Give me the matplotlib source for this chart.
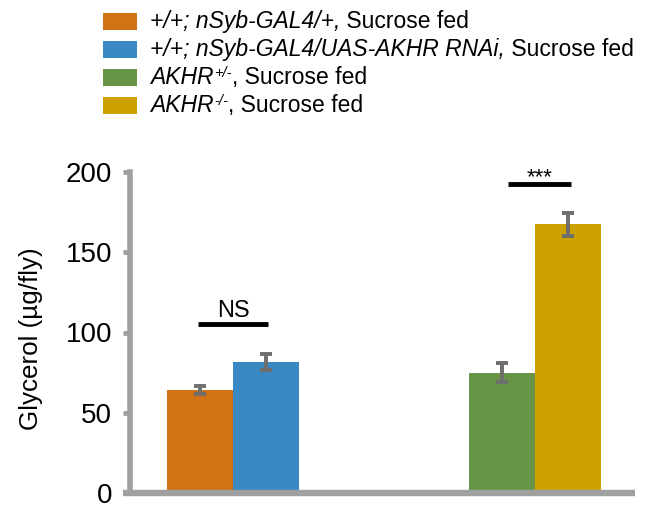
import matplotlib
matplotlib.use("Agg")
import matplotlib.pyplot as plt
from matplotlib.offsetbox import (TextArea, DrawingArea, HPacker, VPacker,
                                  AnchoredOffsetbox)
from matplotlib.patches import Rectangle

plt.rcParams['font.family'] = ['Liberation Sans', 'DejaVu Sans']

# ---- data ----
legend_italic = ["+/+; nSyb-GAL4/+,", "+/+; nSyb-GAL4/UAS-AKHR RNAi,", "AKHR", "AKHR"]
legend_sup = ["", "", "+/-", "-/-"]
legend_regular = [" Sucrose fed", " Sucrose fed", ", Sucrose fed", ", Sucrose fed"]
colors = ["#D17215", "#3A89C3", "#679447", "#CDA100"]
group_index = [0, 0, 1, 1]
bar_offset = [-0.11, 0.11, -0.11, 0.11]
means = [64.2, 81.8, 75.0, 167.4]
errors = [2.6, 5.0, 6.0, 7.2]
sig_labels = ["NS", "***"]
sig_center = [0.0, 1.015]
sig_halfwidth = [0.116, 0.104]
sig_y = [105.3, 192.3]
sig_text_gap = [4.4, 0.5]
sig_fontsize = [17, 16]
yticks = [0, 50, 100, 150, 200]
ylabel = "Glycerol (µg/fly)"

W, H = 655, 518
fig = plt.figure(figsize=(W / 100, H / 100), dpi=100)
ax = fig.add_axes([130 / W, 1 - 493 / H, 505 / W, 321 / H])

spine_c = "#A0A0A0"
xs = [g + o for g, o in zip(group_index, bar_offset)]
ax.bar(xs, means, width=0.22, color=colors, zorder=1, linewidth=0)
ax.errorbar(xs, means, yerr=errors, fmt='none', ecolor="#6E6E6E",
            elinewidth=2.8, capsize=4, capthick=2.8, zorder=3)

for lab, c, hw, y, g, fs in zip(sig_labels, sig_center, sig_halfwidth, sig_y,
                                sig_text_gap, sig_fontsize):
    ax.plot([c - hw, c + hw], [y, y], color="black", lw=3.5,
            solid_capstyle='butt', zorder=4, clip_on=False)
    ax.text(c, y + g, lab, ha='center', va='baseline', fontsize=fs,
            color="black", clip_on=False)

ax.set_xlim(-0.341, 1.331)
ax.set_ylim(0, 200)
ax.set_yticks(yticks)
ax.set_xticks([])
for s in ['top', 'right']:
    ax.spines[s].set_visible(False)
for s in ['left', 'bottom']:
    ax.spines[s].set_color(spine_c)
ax.spines['left'].set_linewidth(4)
ax.spines['bottom'].set_linewidth(4.6)
ax.spines['bottom'].set_bounds(-0.365, 1.331)
ax.spines['bottom'].set_capstyle('butt')
ax.tick_params(axis='y', length=5, width=3.5, color=spine_c, pad=8,
               labelsize=20, labelcolor="black")
ax.set_ylabel(ylabel, fontsize=18.7)
ax.yaxis.set_label_coords(-0.172, 0.48)

# ---- legend built from pieces ----
rows = []
for it, sup, reg, col in zip(legend_italic, legend_sup, legend_regular, colors):
    da = DrawingArea(24.5, 11.8, 0, 0)
    da.add_artist(Rectangle((0, 0), 24.5, 11.8, facecolor=col, edgecolor='none'))
    t_it = TextArea(it, textprops=dict(fontsize=16.5, fontstyle='italic'))
    if sup:
        t_sup = TextArea(sup, textprops=dict(fontsize=10.5, fontstyle='italic'))
        t_it = HPacker(children=[t_it, t_sup], align="top", pad=0, sep=0.5)
    t_reg = TextArea(reg, textprops=dict(fontsize=16.5))
    txt = HPacker(children=[t_it, t_reg], align="center", pad=0, sep=0)
    rows.append(HPacker(children=[da, txt], align="center", pad=0, sep=9.4))
vp = VPacker(children=rows, align="left", pad=0, sep=3.6)
anch = AnchoredOffsetbox(loc='upper left', child=vp, pad=0, borderpad=0,
                         frameon=False, bbox_to_anchor=(103 / W, 1 - 10 / H),
                         bbox_transform=fig.transFigure)
fig.add_artist(anch)

fig.savefig("out.png", dpi=100)
